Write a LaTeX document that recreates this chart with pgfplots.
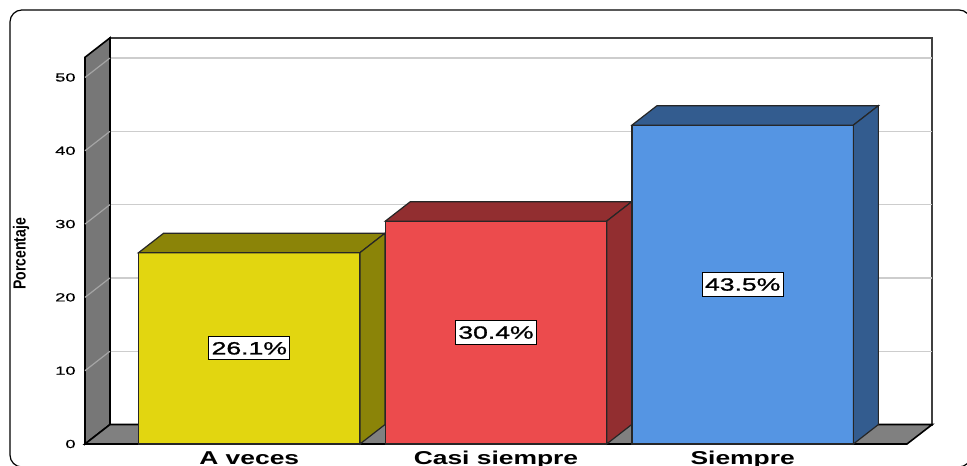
\documentclass[border=0pt]{standalone}
\usepackage{fontspec}
\setmainfont{Liberation Sans}
\newfontfamily\xlabfont[FakeStretch=1.42]{Liberation Sans Bold}
\newfontfamily\valfont[FakeStretch=1.5,FakeBold=1.2]{Liberation Sans}
\newfontfamily\tickfont[FakeStretch=1.55,FakeBold=0.6]{Liberation Sans}
\newfontfamily\ylabfont{Liberation Sans Bold}
\usepackage{pgfplots}
\pgfplotsset{compat=1.18}
\definecolor{yfront}{RGB}{226,214,16}
\definecolor{ydark}{RGB}{139,132,8}
\definecolor{rfront}{RGB}{236,75,77}
\definecolor{rdark}{RGB}{146,46,48}
\definecolor{bfront}{RGB}{85,149,227}
\definecolor{bdark}{RGB}{51,92,143}
\definecolor{wallgray}{RGB}{119,119,119}
\definecolor{floorgray}{RGB}{128,128,128}
\definecolor{gridc}{RGB}{205,205,205}
\definecolor{gridl}{RGB}{165,165,165}
\begin{document}
\begin{tikzpicture}
\begin{axis}[
  scale only axis, width=423.5pt, height=203pt,
  xmin=-0.666, xmax=2.768, ymin=0, ymax=55.4,
  axis line style={draw=none}, tick style={draw=none}, major tick length=0pt,
  xtick={0,1,2}, xticklabels={A veces, Casi siempre, Siempre},
  ytick={0,10,20,30,40,50},
  /pgf/number format/assume math mode=true,
  xticklabel style={font=\xlabfont\fontsize{9.3}{11}\selectfont, anchor=base, yshift=-10.5pt},
  yticklabel style={font=\tickfont\fontsize{5.9}{7}\selectfont, anchor=east, inner sep=0pt, xshift=-4.5pt},
  clip=false,
]
% back wall
\addplot[fill=white, draw=black!75, line width=1pt] coordinates {(-0.5647,2.65) (2.768,2.65) (2.768,55.4) (-0.5647,55.4)} --cycle;
% back wall gridlines
\addplot[gridc, line width=0.6pt] coordinates {(-0.5647,12.65) (2.768,12.65)};
\addplot[gridc, line width=0.6pt] coordinates {(-0.5647,22.65) (2.768,22.65)};
\addplot[gridc, line width=0.6pt] coordinates {(-0.5647,32.65) (2.768,32.65)};
\addplot[gridc, line width=0.6pt] coordinates {(-0.5647,42.65) (2.768,42.65)};
\addplot[gridc, line width=0.6pt] coordinates {(-0.5647,52.65) (2.768,52.65)};
% left wall
\addplot[fill=wallgray, draw=black, line width=0.8pt] coordinates {(-0.666,0) (-0.5647,2.65) (-0.5647,55.4) (-0.666,52.75)} --cycle;
\addplot[gridl, line width=0.6pt] coordinates {(-0.666,10) (-0.5647,12.65)};
\addplot[gridl, line width=0.6pt] coordinates {(-0.666,20) (-0.5647,22.65)};
\addplot[gridl, line width=0.6pt] coordinates {(-0.666,30) (-0.5647,32.65)};
\addplot[gridl, line width=0.6pt] coordinates {(-0.666,40) (-0.5647,42.65)};
\addplot[gridl, line width=0.6pt] coordinates {(-0.666,50) (-0.5647,52.65)};
% floor
\addplot[fill=floorgray, draw=black, line width=0.8pt] coordinates {(-0.666,0) (2.666,0) (2.768,2.65) (-0.5647,2.65)} --cycle;
% bar A veces 26.1
\addplot[fill=yfront, draw=black!85, line width=0.6pt] coordinates {(-0.4487,0) (0.4487,0) (0.4487,26.1) (-0.4487,26.1)} --cycle;
\addplot[fill=ydark, draw=black!85, line width=0.6pt] coordinates {(-0.4487,26.1) (0.4487,26.1) (0.55,28.75) (-0.3474,28.75)} --cycle;
\addplot[fill=ydark, draw=black!85, line width=0.6pt] coordinates {(0.4487,0) (0.55,2.65) (0.55,28.75) (0.4487,26.1)} --cycle;
% bar Casi siempre 30.4
\addplot[fill=rfront, draw=black!85, line width=0.6pt] coordinates {(0.5513,0) (1.4487,0) (1.4487,30.4) (0.5513,30.4)} --cycle;
\addplot[fill=rdark, draw=black!85, line width=0.6pt] coordinates {(0.5513,30.4) (1.4487,30.4) (1.55,33.05) (0.6526,33.05)} --cycle;
\addplot[fill=rdark, draw=black!85, line width=0.6pt] coordinates {(1.4487,0) (1.55,2.65) (1.55,33.05) (1.4487,30.4)} --cycle;
% bar Siempre 43.5
\addplot[fill=bfront, draw=black!85, line width=0.6pt] coordinates {(1.5513,0) (2.4487,0) (2.4487,43.5) (1.5513,43.5)} --cycle;
\addplot[fill=bdark, draw=black!85, line width=0.6pt] coordinates {(1.5513,43.5) (2.4487,43.5) (2.55,46.15) (1.6526,46.15)} --cycle;
\addplot[fill=bdark, draw=black!85, line width=0.6pt] coordinates {(2.4487,0) (2.55,2.65) (2.55,46.15) (2.4487,43.5)} --cycle;
% value labels
\node[draw=black, fill=white, line width=0.5pt, inner xsep=1.5pt, inner ysep=2.7pt, font=\valfont\fontsize{8.85}{10}\selectfont] at (axis cs:0,13.05) {26.1\%};
\node[draw=black, fill=white, line width=0.5pt, inner xsep=1.5pt, inner ysep=2.7pt, font=\valfont\fontsize{8.85}{10}\selectfont] at (axis cs:1,15.2) {30.4\%};
\node[draw=black, fill=white, line width=0.5pt, inner xsep=1.5pt, inner ysep=2.7pt, font=\valfont\fontsize{8.85}{10}\selectfont] at (axis cs:2,21.75) {43.5\%};
% y label
\node[rotate=90, font=\ylabfont\fontsize{7}{8}\selectfont] at (axis cs:-0.9254,25.92) {\scalebox{1}[1.25]{Porcentaje}};
% outer frame
\draw[line width=0.6pt, rounded corners=6pt] (axis cs:-0.970,-3.14) rectangle (axis cs:2.925,59.21);
\coordinate (bbBL) at (axis cs:-1.0105,-3.0014);
\coordinate (bbTR) at (axis cs:2.9092,60.57);
\end{axis}
\pgfresetboundingbox
\useasboundingbox (bbBL) rectangle (bbTR);
\end{tikzpicture}
\end{document}
